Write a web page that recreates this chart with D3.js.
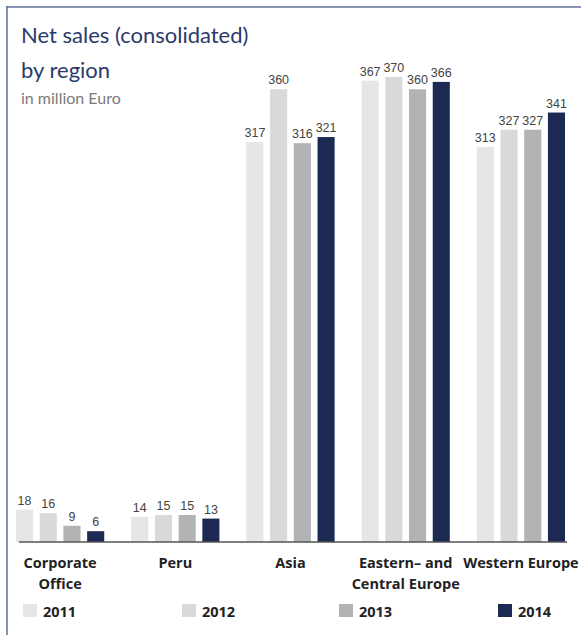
<!DOCTYPE html>
<html>
<head>
<meta charset="utf-8">
<script src="https://cdn.jsdelivr.net/npm/d3@7"></script>
<style>
  body { margin: 0; background: #fff; }
  svg { display: block; }
</style>
</head>
<body>
<svg id="chart"></svg>
<script>
const regions = ['Corporate\nOffice', 'Peru', 'Asia', 'Eastern– and\nCentral Europe', 'Western Europe'];
const years = ['2011', '2012', '2013', '2014'];
const sales2011 = [18, 14, 317, 367, 313];
const sales2012 = [16, 15, 360, 370, 327];
const sales2013 = [9, 15, 316, 360, 327];
const sales2014 = [6, 13, 321, 366, 341];
const seriesValues = [sales2011, sales2012, sales2013, sales2014];

const width = 581;
const height = 635;
const baseY = 542;
const colors = ['#e6e6e6', '#d8d9da', '#b2b3b4', '#1c2953'];
const navy = '#2b3a6b';

const svg = d3.select('#chart')
  .attr('width', width)
  .attr('height', height);

// frame (top + left rule)
svg.append('line')
  .attr('x1', 6).attr('x2', width).attr('y1', 7).attr('y2', 7)
  .attr('stroke', '#5f6f98').attr('stroke-width', 1.5);
svg.append('line')
  .attr('x1', 7).attr('x2', 7).attr('y1', 6).attr('y2', height)
  .attr('stroke', '#5f6f98').attr('stroke-width', 1.5);

// titles
svg.append('text')
  .attr('x', 21).attr('y', 43)
  .attr('font-family', 'Lato, sans-serif').attr('font-size', 22)
  .attr('fill', navy)
  .text('Net sales (consolidated)');
svg.append('text')
  .attr('x', 21).attr('y', 78)
  .attr('font-family', 'Lato, sans-serif').attr('font-size', 22)
  .attr('fill', navy)
  .text('by region');
svg.append('text')
  .attr('x', 21).attr('y', 104)
  .attr('font-family', 'Lato, sans-serif').attr('font-size', 16)
  .attr('fill', '#7a7a7a')
  .text('in million Euro');

// scales
const x0 = d3.scaleBand()
  .domain(regions)
  .range([16, 565])
  .paddingInner(0.234);

const x1 = d3.scaleBand()
  .domain(years)
  .range([0, x0.bandwidth()])
  .paddingInner(0.28);

// small values are drawn a bit taller in the original, hence the kink
const y = d3.scaleLinear()
  .domain([0, 20, 370])
  .range([baseY, baseY - 36, baseY - 465]);

const data = regions.map((r, i) => ({
  region: r,
  values: years.map((yr, j) => ({ year: yr, idx: j, value: seriesValues[j][i] }))
}));

const groups = svg.selectAll('.group')
  .data(data)
  .enter().append('g')
  .attr('class', 'group')
  .attr('transform', d => `translate(${x0(d.region)},0)`);

groups.selectAll('rect')
  .data(d => d.values)
  .enter().append('rect')
  .attr('x', d => x1(d.year))
  .attr('y', d => y(d.value))
  .attr('width', x1.bandwidth())
  .attr('height', d => baseY - y(d.value))
  .attr('fill', d => colors[d.idx]);

groups.selectAll('.val')
  .data(d => d.values)
  .enter().append('text')
  .attr('class', 'val')
  .attr('x', d => x1(d.year) + x1.bandwidth() / 2)
  .attr('y', d => y(d.value) - 5)
  .attr('text-anchor', 'middle')
  .attr('font-family', 'Liberation Sans, Arial, sans-serif')
  .attr('font-size', 12.5)
  .attr('fill', '#444')
  .text(d => d.value);

// baseline
svg.append('line')
  .attr('x1', 19).attr('x2', 567)
  .attr('y1', baseY).attr('y2', baseY)
  .attr('stroke', '#555').attr('stroke-width', 1.5);

// category labels
groups.append('text')
  .attr('x', x0.bandwidth() / 2)
  .attr('y', 568)
  .attr('text-anchor', 'middle')
  .attr('font-family', 'Open Sans, sans-serif')
  .attr('font-weight', 'bold')
  .attr('font-size', 14.5)
  .attr('fill', '#222')
  .selectAll('tspan')
  .data(d => d.region.split('\n'))
  .enter().append('tspan')
  .attr('x', x0.bandwidth() / 2)
  .attr('dy', (d, i) => i === 0 ? 0 : 21)
  .text(d => d);

// legend
const legendX = [23, 182, 339, 498];
const legend = svg.selectAll('.legend')
  .data(years)
  .enter().append('g')
  .attr('class', 'legend')
  .attr('transform', (d, i) => `translate(${legendX[i]},604)`);

legend.append('rect')
  .attr('width', 14).attr('height', 13)
  .attr('fill', (d, i) => colors[i]);

legend.append('text')
  .attr('x', 20).attr('y', 13)
  .attr('font-family', 'Open Sans, sans-serif')
  .attr('font-weight', 'bold')
  .attr('font-size', 14.5)
  .attr('fill', '#222')
  .text(d => d);
</script>
</body>
</html>
